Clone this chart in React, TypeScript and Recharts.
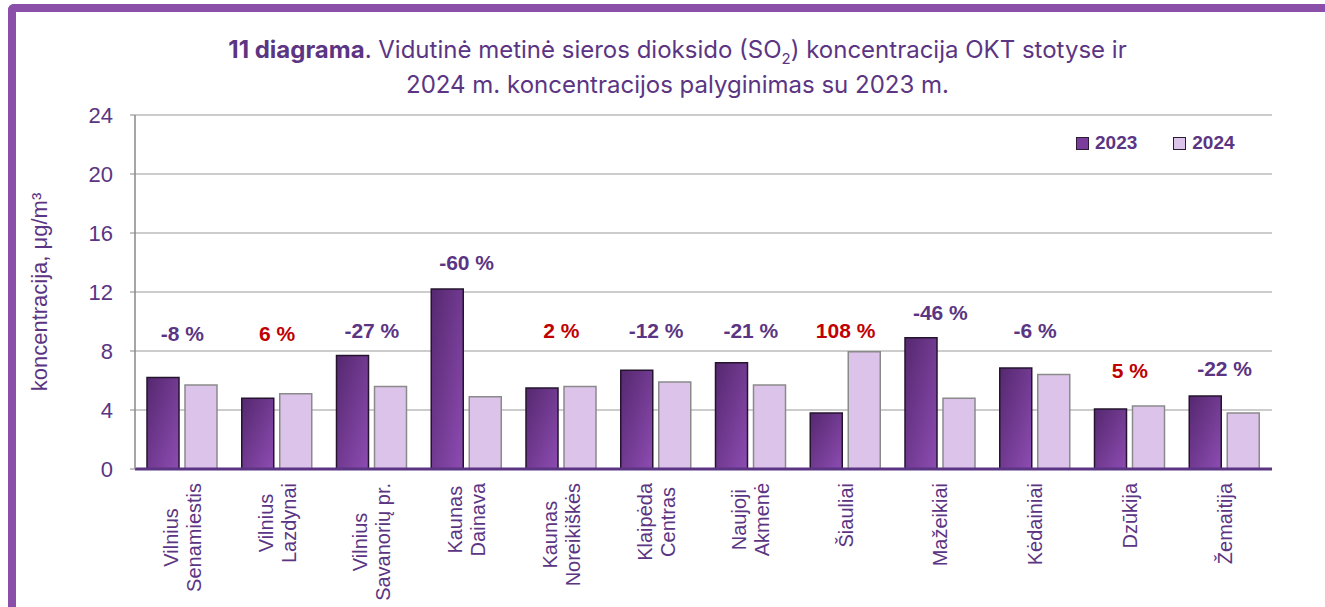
import React from 'react';
import {
  BarChart,
  Bar,
  Line,
  XAxis,
  YAxis,
  CartesianGrid,
  Legend,
  LabelList,
} from 'recharts';

// stations, two lines each where the label wraps
const stations = [
  'Vilnius\nSenamiestis',
  'Vilnius\nLazdynai',
  'Vilnius\nSavanorių pr.',
  'Kaunas\nDainava',
  'Kaunas\nNoreikiškės',
  'Klaipėda\nCentras',
  'Naujoji\nAkmenė',
  'Šiauliai',
  'Mažeikiai',
  'Kėdainiai',
  'Dzūkija',
  'Žemaitija',
];
const so2_2023 = [6.2, 4.8, 7.7, 12.2, 5.5, 6.7, 7.2, 3.8, 8.9, 6.85, 4.07, 4.95];
const so2_2024 = [5.7, 5.1, 5.6, 4.9, 5.6, 5.9, 5.7, 7.95, 4.8, 6.4, 4.27, 3.8];
const changePct = [-8, 6, -27, -60, 2, -12, -21, 108, -46, -6, 5, -22];
// height (µg/m³) at which each change label sits
const changeLabelAt = [9.2, 9.2, 9.4, 14.0, 9.4, 9.4, 9.4, 9.4, 10.6, 9.4, 6.7, 6.8];
const yTicks = [0, 4, 8, 12, 16, 20, 24];

const data = stations.map((name, i) => ({
  name,
  y2023: so2_2023[i],
  y2024: so2_2024[i],
  change: changePct[i],
  labelY: changeLabelAt[i],
}));

const PURPLE = '#5b3583';
const RED = '#c00000';
const LABEL_FONT = 'Arial, "Liberation Sans", sans-serif';

let measureCtx: CanvasRenderingContext2D | null = null;
function textWidth(s: string, font: string) {
  if (!measureCtx) measureCtx = document.createElement('canvas').getContext('2d');
  if (!measureCtx) return s.length * 10;
  measureCtx.font = font;
  return measureCtx.measureText(s).width;
}

function StationTick(props: any) {
  const { x, y, payload } = props;
  const lines = String(payload.value).split('\n');
  const n = lines.length;
  const font = `20px ${LABEL_FONT}`;
  const maxW = Math.max(...lines.map((l) => textWidth(l, font)));
  return (
    <g transform={`translate(${x},${y + 14}) rotate(-90)`}>
      {lines.map((l, i) => (
        <text
          key={i}
          x={-maxW / 2}
          y={(i - (n - 1) / 2) * 23 + 7}
          textAnchor="middle"
          fontSize={20}
          fontFamily={LABEL_FONT}
          fill={PURPLE}
        >
          {l}
        </text>
      ))}
    </g>
  );
}

function ChangeLabel(props: any) {
  const { x, y, value } = props;
  return (
    <text
      x={x}
      y={y}
      textAnchor="middle"
      dominantBaseline="central"
      fontSize={21}
      fontWeight="bold"
      fontFamily={LABEL_FONT}
      fill={value > 0 ? RED : PURPLE}
    >
      {`${value} %`}
    </text>
  );
}

function YearLegend({ payload }: any) {
  const items = (payload || []).filter((p: any) => p.type !== 'none');
  return (
    <div style={{ display: 'flex', gap: 36, fontFamily: LABEL_FONT }}>
      {items.map((p: any) => (
        <div key={p.value} style={{ display: 'flex', alignItems: 'center', gap: 6 }}>
          <span
            style={{
              width: 11,
              height: 11,
              background: p.value === '2023' ? '#7a3d9c' : '#dcc3ea',
              border: '1px solid #2a1a33',
              display: 'inline-block',
            }}
          />
          <span style={{ color: PURPLE, fontWeight: 'bold', fontSize: 19 }}>{p.value}</span>
        </div>
      ))}
    </div>
  );
}

export default function App() {
  return (
    <div
      style={{
        position: 'absolute',
        left: 0,
        top: 0,
        width: 1325,
        height: 607,
        overflow: 'hidden',
        background: '#fff',
      }}
    >
      <div
        style={{
          position: 'absolute',
          left: 8,
          top: 4,
          width: 1400,
          height: 700,
          borderTop: '8px solid #8a50a9',
          borderLeft: '8px solid #8a50a9',
          borderTopLeftRadius: 6,
        }}
      />
      <div
        style={{
          position: 'absolute',
          left: 0,
          top: 32,
          width: 1355,
          textAlign: 'center',
          fontFamily: 'Inter, "Noto Sans", sans-serif',
          fontSize: 24,
          lineHeight: '35px',
          color: PURPLE,
        }}
      >
        <b>11 diagrama</b>. Vidutinė metinė sieros dioksido (SO
        <span style={{ fontSize: 15, position: 'relative', top: 6, lineHeight: 0 }}>2</span>)
        koncentracija OKT stotyse ir
        <br />
        2024 m. koncentracijos palyginimas su 2023 m.
      </div>
      <div style={{ position: 'absolute', left: 0, top: 0 }}>
        <BarChart
          width={1325}
          height={607}
          data={data}
          margin={{ top: 115, right: 53, bottom: 0, left: 8 }}
          barSize={32}
          barGap={6}
        >
          <defs>
            <linearGradient id="dark2023" x1="0" y1="0" x2="1" y2="1">
              <stop offset="0%" stopColor="#55286f" />
              <stop offset="100%" stopColor="#8d4cb2" />
            </linearGradient>
          </defs>
          <CartesianGrid vertical={false} stroke="#9a9a9a" strokeWidth={1.2} />
          <XAxis
            dataKey="name"
            interval={0}
            height={138}
            tickLine={false}
            tickSize={0}
            tickMargin={0}
            axisLine={{ stroke: PURPLE, strokeWidth: 3 }}
            tick={<StationTick />}
          />
          <YAxis
            width={127}
            domain={[0, 24]}
            ticks={yTicks}
            interval={0}
            allowDataOverflow
            tickSize={5}
            tickMargin={17}
            tickLine={{ stroke: '#888' }}
            axisLine={{ stroke: '#888', strokeWidth: 1.5 }}
            tick={{ fontSize: 22, fill: PURPLE, fontFamily: LABEL_FONT }}
            label={{
              value: 'koncentracija, μg/m³',
              angle: -90,
              position: 'insideLeft',
              offset: 31,
              style: { fontSize: 22, fill: PURPLE, fontFamily: LABEL_FONT, textAnchor: 'middle' },
            }}
          />
          <YAxis
            yAxisId="frame"
            orientation="right"
            width={0}
            tick={false}
            tickLine={false}
            axisLine={{ stroke: '#888', strokeWidth: 1.5 }}
          />
          <Legend
            layout="horizontal"
            verticalAlign="middle"
            align="center"
            content={<YearLegend />}
            wrapperStyle={{ position: 'absolute', left: 1076, top: 132, width: 230 }}
          />
          <Bar
            dataKey="y2023"
            name="2023"
            fill="url(#dark2023)"
            stroke="#24142e"
            strokeWidth={1.5}
            isAnimationActive={false}
          />
          <Bar
            dataKey="y2024"
            name="2024"
            fill="#dcc3ea"
            stroke="#8a8a8a"
            strokeWidth={1.5}
            isAnimationActive={false}
          />
          <Line
            dataKey="labelY"
            stroke="none"
            dot={false}
            activeDot={false}
            legendType="none"
            isAnimationActive={false}
          >
            <LabelList dataKey="change" content={<ChangeLabel />} />
          </Line>
        </BarChart>
      </div>
    </div>
  );
}
